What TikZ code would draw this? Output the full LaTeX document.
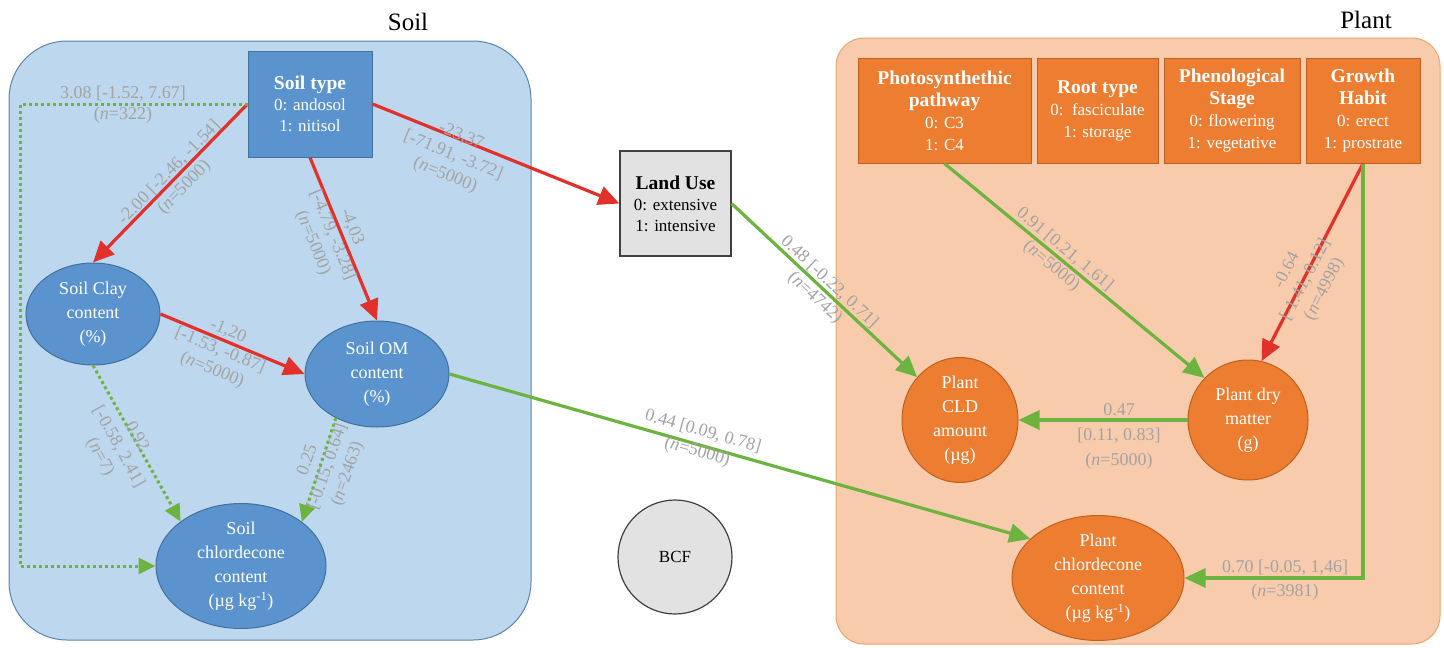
\documentclass[tikz,border=0pt]{standalone}
\usepackage{fontspec}
\setmainfont{Liberation Serif}
\usetikzlibrary{shapes.geometric,arrows.meta}
\definecolor{soilbg}{HTML}{BDD7EE}
\definecolor{soilbgb}{HTML}{5F82AA}
\definecolor{soilnode}{HTML}{5B93CE}
\definecolor{soilnodeb}{HTML}{41719C}
\definecolor{plantbg}{HTML}{F8CBAD}
\definecolor{plantbgb}{HTML}{F0A46A}
\definecolor{plantnode}{HTML}{ED7D31}
\definecolor{plantnodeb}{HTML}{C0601C}
\definecolor{greyfill}{HTML}{E2E2E2}
\definecolor{greyb}{HTML}{404040}
\definecolor{arrred}{HTML}{E2302A}
\definecolor{arrgreen}{HTML}{6DB33F}
\definecolor{lblgray}{HTML}{A3A3A3}
\newcommand\boldtitle[1]{{\fontsize{19.5}{22}\selectfont\bfseries #1}}
\begin{document}
\begin{tikzpicture}[x=1pt,y=-1pt,
  container/.style={line width=1pt},
  soilrect/.style={draw=soilnodeb, fill=soilnode, line width=1pt, text=white, inner sep=0pt, align=center, font=\fontsize{17}{21}\selectfont},
  soilell/.style={ellipse, draw=soilnodeb, fill=soilnode, line width=1pt, text=white, inner sep=0pt, align=center, font=\fontsize{18}{24}\selectfont},
  plantrect/.style={draw=plantnodeb, fill=plantnode, line width=1pt, text=white, inner sep=0pt, align=center, font=\fontsize{17}{22}\selectfont},
  plantell/.style={ellipse, draw=plantnodeb, fill=plantnode, line width=1pt, text=white, inner sep=0pt, align=center, font=\fontsize{18}{24}\selectfont},
  greynode/.style={draw=greyb, fill=greyfill, line width=1.2pt, text=black, inner sep=0pt, align=center, font=\fontsize{17}{21}\selectfont},
  lbl/.style={text=lblgray, inner sep=0pt, align=center, font=\fontsize{18}{21}\selectfont},
  title/.style={inner sep=0pt, font=\fontsize{25}{28}\selectfont},
  redarr/.style={draw=arrred, line width=3.2pt, -{Triangle[length=21pt,width=19pt]}},
  greenarr/.style={draw=arrgreen, line width=3.2pt, -{Triangle[length=21pt,width=19pt]}},
  greendot/.style={draw=arrgreen, line width=3pt, dash pattern=on 3pt off 3pt, -{Triangle[length=17pt,width=16pt]}}
]
\useasboundingbox (0,0) rectangle (1444,648);

% containers
\draw[container, draw=soilbgb, fill=soilbg, rounded corners=58pt] (9,41) rectangle (531,640);
\draw[container, draw=plantbgb, fill=plantbg, rounded corners=28pt] (836,38) rectangle (1440,644);
\node[title] (soiltitle) at (408,22) {Soil};
\node[title] (planttitle) at (1366,20) {Plant};

% soil nodes
\node[soilrect, minimum width=124pt, minimum height=106pt] (st) at (310,104)
  {\boldtitle{Soil type}\\0: andosol\\1: nitisol};
\node[soilell, minimum width=134pt, minimum height=102pt] (clay) at (93,314)
  {Soil Clay\\content\\(\%)};
\node[soilell, minimum width=144pt, minimum height=106pt] (om) at (377,374)
  {Soil OM\\content\\(\%)};
\node[soilell, minimum width=170pt, minimum height=118pt] (chl) at (241,566)
  {Soil\\chlordecone\\content\\(µg kg\textsuperscript{-1})};

% middle nodes
\node[greynode, minimum width=111pt, minimum height=105pt] (lu) at (675.5,203.5)
  {\boldtitle{Land Use}\\0: extensive\\1: intensive};
\node[circle, draw=greyb, fill=greyfill, line width=1.2pt, minimum size=114pt, inner sep=0pt, font=\fontsize{17}{20}\selectfont] (bcf) at (675,557) {BCF};

% plant nodes
\node[plantrect, minimum width=173pt, minimum height=105pt] (ph) at (944.5,110.5)
  {\boldtitle{Photosynthethic}\\\boldtitle{pathway}\\0: C3\\1: C4};
\node[plantrect, minimum width=121pt, minimum height=105pt] (rt) at (1097.5,110.5)
  {\boldtitle{Root type}\\0:\ \ fasciculate\\1: storage};
\node[plantrect, minimum width=136pt, minimum height=105pt] (ps) at (1232,110.5)
  {\boldtitle{Phenological}\\\boldtitle{Stage}\\0: flowering\\1: vegetative};
\node[plantrect, minimum width=114pt, minimum height=105pt] (gh) at (1363,110.5)
  {\boldtitle{Growth}\\\boldtitle{Habit}\\0: erect\\1: prostrate};
\node[plantell, minimum width=116pt, minimum height=116pt] (cld) at (960,420)
  {Plant\\CLD\\amount\\(µg)};
\node[plantell, minimum width=120pt, minimum height=120pt] (dm) at (1248,420)
  {Plant dry\\matter\\(g)};
\node[plantell, minimum width=172pt, minimum height=116pt] (pc) at (1098,578)
  {Plant\\chlordecone\\content\\(µg kg\textsuperscript{-1})};

\coordinate (elb) at (20,566);

% connectors
\draw[redarr] (st.west) -- (clay.north);
\draw[redarr] (st.south) -- (om.north);
\draw[redarr] (st.east) -- (lu.west);
\draw[redarr] (clay.east) -- (om.west);
\draw[greendot] (clay.south) -- (chl.north west);
\draw[greendot] (om.227) -- (chl.36);
\draw[greendot] (st.west) -| (elb) -- (chl.west);
\draw[greenarr] (om.east) -- (pc.150);
\draw[greenarr] (lu.east) -- (cld.135);
\draw[greenarr] (ph.south) -- (dm.136);
\draw[redarr] (gh.south) -- (dm.77);
\draw[greenarr] (dm.west) -- (cld.east);
\draw[greenarr] (gh.south) |- (pc.east);

% labels
\node[lbl, rotate=45.7] (l1) at (177,180) {-2.00 [-2.46, -1.54]\\(\textit{n}=5000)};
\node[lbl, rotate=-67.8] (l2) at (332,235) {-4,03\\{[}-4.79, -3.28]\\(\textit{n}=5000)};
\node[lbl, rotate=-22.2] (l3) at (453,156) {-23,37\\{[}-71.91, -3.72]\\(\textit{n}=5000)};
\node[lbl, rotate=-22.5] (l4) at (220,351) {-1,20\\{[}-1.53, -0.87]\\(\textit{n}=5000)};
\node[lbl, rotate=-61] (l5) at (118,447) {0.92\\{[}-0.58, 2.41]\\(\textit{n}=7)};
\node[lbl, rotate=71] (l6) at (328,467) {0.25\\{[}-0.15, 0.64]\\(\textit{n}=2463)};
\node[lbl] (l7) at (123,105) {3.08 [-1.52, 7.67]\\(\textit{n}=322)};
\node[lbl, rotate=-16] (l8) at (700,442) {0.44 [0.09, 0.78]\\(\textit{n}=5000)};
\node[lbl, rotate=-42.9] (l9) at (822,290) {0.48 [-0.22, 0.71]\\(\textit{n}=4742)};
\node[lbl, rotate=-39.7] (l10) at (1058,258) {0.91 [0.21, 1.61]\\(\textit{n}=5000)};
\node[lbl, rotate=63] (l11) at (1306,280) {-0.64\\{[}-1.41, 0.12]\\(\textit{n}=4998)};
\node[lbl, font=\fontsize{18}{25}\selectfont] (l12) at (1119,436) {0.47\\{[}0.11, 0.83]\\(\textit{n}=5000)};
\node[lbl, font=\fontsize{18}{24}\selectfont] (l13) at (1285,580) {0.70 [-0.05, 1,46]\\(\textit{n}=3981)};
\end{tikzpicture}
\end{document}
